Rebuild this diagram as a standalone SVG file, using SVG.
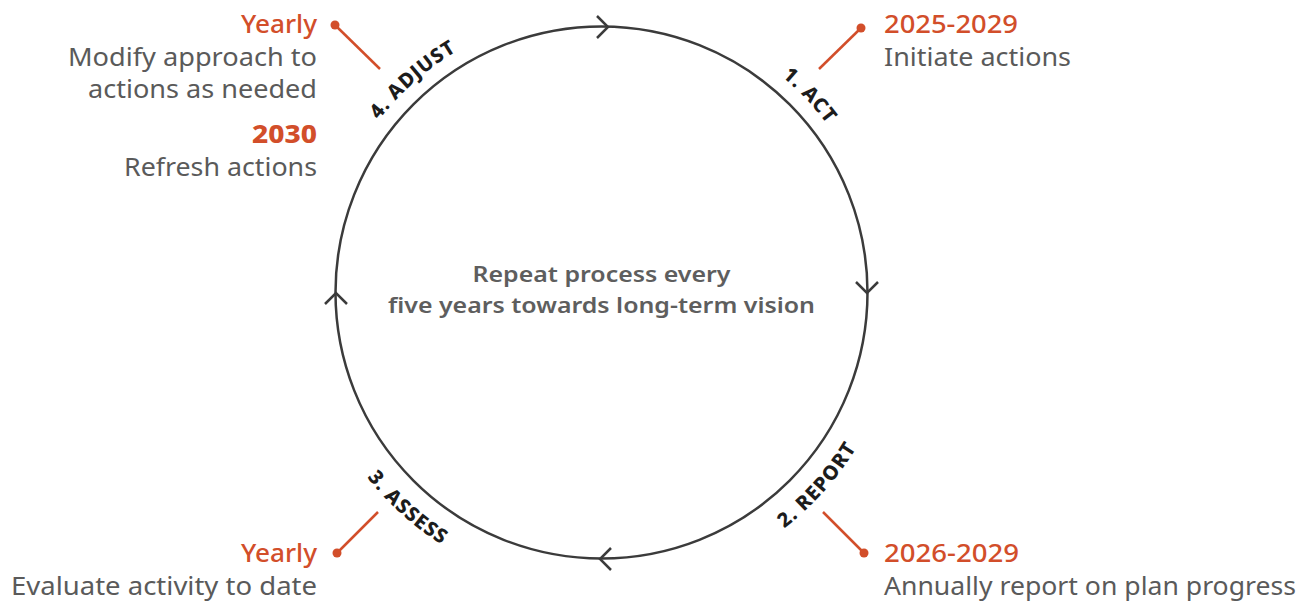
<svg xmlns="http://www.w3.org/2000/svg" width="1309" height="602" viewBox="0 0 1309 602">
<style>
.bg{fill:#ffffff}
.ring{fill:none;stroke:#3b3b3b;stroke-width:2.5}
.chev{fill:none;stroke:#3b3b3b;stroke-width:2.5;stroke-linecap:butt;stroke-linejoin:miter}
.lead{stroke:#d24e2a;stroke-width:2.5}
.dot{fill:#d24e2a}
.when{font-family:"Noto Sans","Liberation Sans",sans-serif;font-size:25px;font-weight:500;fill:#d24e2a}
.whenb{font-family:"Noto Sans","Liberation Sans",sans-serif;font-size:25px;font-weight:800;fill:#d24e2a}
.desc{font-family:"Noto Sans","Liberation Sans",sans-serif;font-size:25px;font-weight:400;fill:#5a5a5a}
.center{font-family:"Noto Sans","Liberation Sans",sans-serif;font-size:22px;font-weight:600;fill:#5e5e5e;text-anchor:middle}
.lab{font-family:"Noto Sans","Liberation Sans",sans-serif;font-size:20px;font-weight:800;fill:#1c1c1c;letter-spacing:1px;text-anchor:middle}
.end{text-anchor:end}
</style>
<defs>
<path id="topPath" d="M 320 292.5 A 281.5 281.5 0 1 1 883 292.5 A 281.5 281.5 0 1 1 320 292.5"/>
<path id="botPath" d="M 303 292.5 A 298.5 298.5 0 1 0 900 292.5 A 298.5 298.5 0 1 0 303 292.5"/>
</defs>
<rect class="bg" x="0" y="0" width="1309" height="602"/>

<g id="cycle">
<circle class="ring" cx="601.5" cy="292.5" r="266"/>
<text class="center" x="601.5" y="282" textLength="258" lengthAdjust="spacingAndGlyphs">Repeat process every</text>
<text class="center" x="601.5" y="313" textLength="427" lengthAdjust="spacingAndGlyphs">five years towards long-term vision</text>
</g>

<g id="connectors">
<polyline class="chev" points="597,16 608,27 597,38"/>
<polyline class="chev" points="856,282 867,293 878,282"/>
<polyline class="chev" points="611,548 600,559 611,570"/>
<polyline class="chev" points="325,304 336,293 347,304"/>
<line class="lead" x1="335" y1="25" x2="380" y2="69"/>
<line class="lead" x1="861" y1="28" x2="819" y2="69"/>
<line class="lead" x1="864" y1="553" x2="823" y2="512"/>
<line class="lead" x1="337" y1="553" x2="378" y2="512"/>
<circle class="dot" cx="335" cy="25" r="4.5"/>
<circle class="dot" cx="861" cy="28" r="4.5"/>
<circle class="dot" cx="864" cy="553" r="4.5"/>
<circle class="dot" cx="337" cy="553" r="4.5"/>
</g>

<g id="step-act">
<text class="lab"><textPath href="#topPath" startOffset="671">1. ACT</textPath></text>
<text class="when" x="884" y="33" textLength="134" lengthAdjust="spacingAndGlyphs">2025-2029</text>
<text class="desc" x="884" y="66" textLength="187" lengthAdjust="spacingAndGlyphs">Initiate actions</text>
</g>

<g id="step-report">
<text class="lab"><textPath href="#botPath" startOffset="720">2. REPORT</textPath></text>
<text class="when" x="884" y="562" textLength="135" lengthAdjust="spacingAndGlyphs">2026-2029</text>
<text class="desc" x="884" y="595" textLength="412" lengthAdjust="spacingAndGlyphs">Annually report on plan progress</text>
</g>

<g id="step-assess">
<text class="lab"><textPath href="#botPath" startOffset="250">3. ASSESS</textPath></text>
<text class="when end" x="317" y="562" textLength="76" lengthAdjust="spacingAndGlyphs">Yearly</text>
<text class="desc end" x="317" y="595" textLength="306" lengthAdjust="spacingAndGlyphs">Evaluate activity to date</text>
</g>

<g id="step-adjust">
<text class="lab"><textPath href="#topPath" startOffset="238">4. ADJUST</textPath></text>
<text class="when end" x="317" y="33" textLength="76" lengthAdjust="spacingAndGlyphs">Yearly</text>
<text class="desc end" x="317" y="66" textLength="249" lengthAdjust="spacingAndGlyphs">Modify approach to</text>
<text class="desc end" x="317" y="98" textLength="229" lengthAdjust="spacingAndGlyphs">actions as needed</text>
<text class="whenb end" x="317" y="143" textLength="65" lengthAdjust="spacingAndGlyphs">2030</text>
<text class="desc end" x="317" y="176" textLength="193" lengthAdjust="spacingAndGlyphs">Refresh actions</text>
</g>
</svg>
